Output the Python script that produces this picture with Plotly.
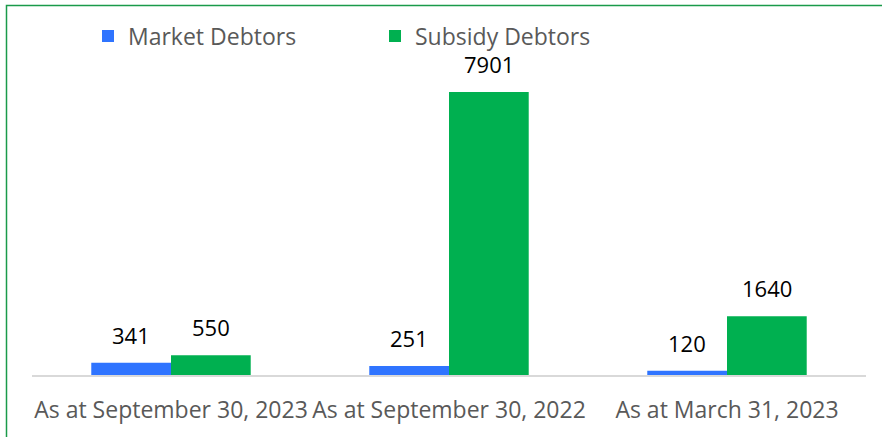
import plotly.graph_objects as go

categories = ["As at September 30, 2023", "As at September 30, 2022", "As at March 31, 2023"]
market_debtors = [341, 251, 120]
subsidy_debtors = [550, 7901, 1640]
series_names = ["Market Debtors", "Subsidy Debtors"]
colors = ["#2f74ff", "#00b050"]

W, H = 882, 437
L, R, T, B = 32, 16, 0, 62
plot_w = W - L - R
plot_h = H - T - B
FONT = "Open Sans"
BARGAP = 0.4265

fig = go.Figure()
for name, vals, col in zip(series_names, [market_debtors, subsidy_debtors], colors):
    fig.add_trace(go.Bar(x=categories, y=vals, name=name, marker=dict(color=col, line=dict(width=0))))

# data labels above bars
bar_px = plot_w / len(categories) * (1 - BARGAP) / 2
for i, vals in enumerate([market_debtors, subsidy_debtors]):
    shift = (-0.5 if i == 0 else 0.5) * bar_px
    for c, v in zip(categories, vals):
        fig.add_annotation(x=c, y=v, xref="x", yref="y", text=str(v), showarrow=False,
                           xshift=shift, yshift=11, yanchor="bottom",
                           font=dict(family=FONT, size=22, color="#000000"))

# green border around chart
fig.add_shape(type="rect", xref="paper", yref="paper",
              x0=(6.5 - L) / plot_w, x1=(W + 5 - L) / plot_w,
              y0=(H - B - (H + 5)) / plot_h, y1=(H - B - 5.5) / plot_h,
              line=dict(color="#1a9a4a", width=1.5), fillcolor="rgba(0,0,0,0)", layer="above")

fig.update_layout(
    width=W, height=H,
    margin=dict(l=L, r=R, t=T, b=B),
    paper_bgcolor="white", plot_bgcolor="white",
    barmode="group", bargap=BARGAP, bargroupgap=0,
    font=dict(family=FONT, size=22, color="#595959"),
    showlegend=True,
    legend=dict(orientation="h", x=(88 - L) / plot_w, xanchor="left", y=(H - B - 36) / plot_h, yanchor="middle",
                font=dict(family=FONT, size=23, color="#595959"), entrywidth=242, entrywidthmode="pixels",
                bgcolor="rgba(0,0,0,0)", traceorder="normal"),
    xaxis=dict(showgrid=False, showline=True, linecolor="#d9d9d9", linewidth=2, ticks="",
               tickfont=dict(family=FONT, size=23, color="#595959"), ticklabelstandoff=13),
    yaxis=dict(visible=False, range=[0, 7901 * plot_h / 283]),
)

fig.write_html("out.html", config={"displayModeBar": False},
               post_script="document.body.style.margin='0';")
